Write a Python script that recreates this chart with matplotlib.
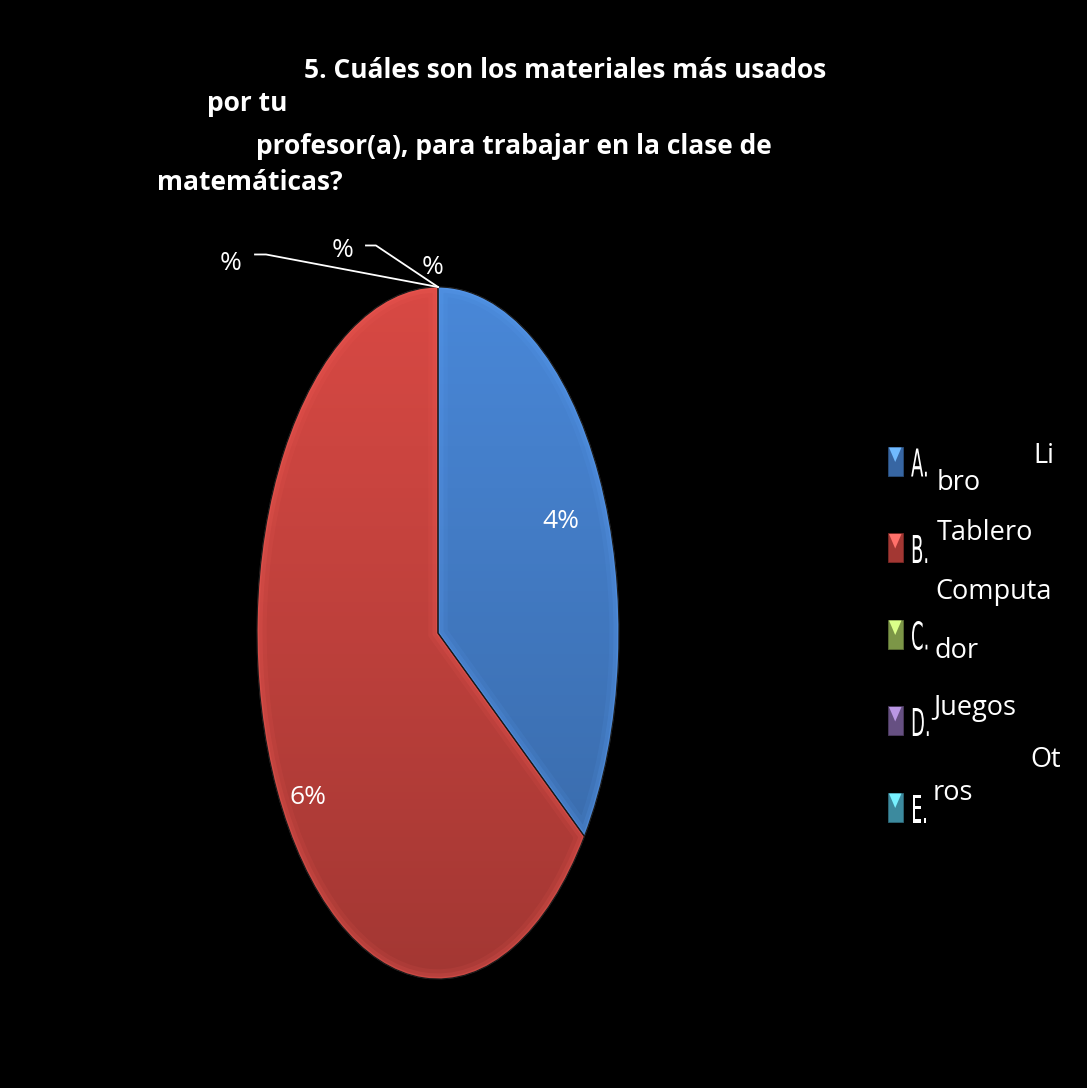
import numpy as np
import matplotlib.pyplot as plt
from matplotlib.patches import Rectangle, Polygon, PathPatch, Wedge
from matplotlib.textpath import TextPath
from matplotlib.font_manager import FontProperties
from matplotlib.transforms import Affine2D
from matplotlib.colors import to_rgb

# Pregunta 5 : materiales usados por el profesor(a)
letras = ["A.", "B.", "C.", "D.", "E."]
porcentajes = [35, 65, 0, 0, 0]
etiquetas = ["4%", "6%", "%", "%", "%"]
colores = ["#4580cc", "#cc4540", "#9bbb59", "#8064a2", "#4bacc6"]
# texto de la leyenda, cortado en trozos como sale en la hoja
leyenda = [["Li", "bro"], ["Tablero"], ["Computa", "dor"], ["Juegos"], ["Ot", "ros"]]
titulo = ["5. Cuáles son los materiales más usados",
          "por tu",
          "profesor(a), para trabajar en la clase de",
          "matemáticas?"]

W, H = 1087, 1088
fig = plt.figure(figsize=(W / 100, H / 100), dpi=100, facecolor="black")

# capa en pixeles para textos y leyenda
ov = fig.add_axes([0, 0, 1, 1])
ov.set_xlim(0, W)
ov.set_ylim(H, 0)
ov.axis("off")

fuente_tit = dict(family="Open Sans", weight="bold", size=19, color="white")
pos_tit = [(304, 78), (207, 111), (256, 154), (157, 190)]
for linea, (x, y) in zip(titulo, pos_tit):
    ov.text(x, y, linea, ha="left", va="baseline", **fuente_tit)

# torta (elipse estirada en vertical)
cx, cy, rx, ry = 438, 633, 181, 346
ax = fig.add_axes([(cx - rx) / W, (H - cy - ry) / H, 2 * rx / W, 2 * ry / H])
ax.set_facecolor("none")
wedges, _ = ax.pie(porcentajes, colors=colores, startangle=90, counterclock=False,
                   radius=1, wedgeprops=dict(linewidth=0.8, edgecolor="#222222"))
ax.set_aspect("auto")
ax.set_xlim(-1, 1)
ax.set_ylim(-1, 1)

# degradado y borde claro de cada porción
yy = np.linspace(1, 0, 200)[:, None, None]
for w, c in zip(wedges, colores):
    if w.theta2 - w.theta1 < 0.01:
        continue
    base = np.array(to_rgb(c))
    arriba = np.clip(base * 1.06, 0, 1)
    abajo = base * 0.8
    grad = abajo + (arriba - abajo) * yy
    grad = np.repeat(grad, 2, axis=1)
    im = ax.imshow(grad, extent=(-1, 1, -1, 1), aspect="auto", zorder=2)
    im.set_clip_path(w)
    claro = np.clip(base * 1.15 + 0.07, 0, 1)
    for lw, a in [(14, 0.10), (8, 0.15), (3, 0.25)]:
        borde = Wedge(w.center, w.r, w.theta1, w.theta2, facecolor="none",
                      edgecolor=claro, linewidth=lw, alpha=a, zorder=3)
        ax.add_patch(borde)
        borde.set_clip_path(w)
    ax.add_patch(Wedge(w.center, w.r, w.theta1, w.theta2, facecolor="none",
                       edgecolor="#1a1a1a", linewidth=0.8, zorder=4))

# etiquetas de porcentaje
fuente_pct = dict(family="Open Sans", size=19, color="white")
dist = [0.75, 0.86]
giro = [-1.5, 6.5]
for i, w in enumerate(wedges[:2]):
    ang = np.deg2rad((w.theta1 + w.theta2) / 2 + giro[i])
    ax.text(dist[i] * np.cos(ang), dist[i] * np.sin(ang), etiquetas[i],
            ha="center", va="center", **fuente_pct)

# porciones vacías: etiqueta con línea guía hasta el vértice
pos_vacias = [(-1.144, 1.068), (-0.530, 1.106), (-0.028, 1.055)]
guias = [[(-1.011, 1.094), (-0.950, 1.094)], [(-0.398, 1.120), (-0.343, 1.120)], None]
for w, txt, (lx, ly), g in zip(wedges[2:], etiquetas[2:], pos_vacias, guias):
    ang = np.deg2rad(w.theta1)
    vx, vy = w.r * np.cos(ang), w.r * np.sin(ang)
    ax.text(lx, ly, txt, ha="center", va="center", clip_on=False, **fuente_pct)
    if g is not None:
        xs = [g[0][0], g[1][0], vx]
        ys = [g[0][1], g[1][1], vy]
        ax.plot(xs, ys, color="white", lw=1.3, clip_on=False, zorder=5)

# leyenda
fuente_ley = dict(family="Open Sans", size=19.5, color="white")
trozos_pos = [[(1033, 2), (937, 29)], [(937, -7.5)], [(935, -35.5), (935, 23.5)],
              [(933, -6)], [(1030, -40), (933, -7)]]
prop_letra = FontProperties(family="DejaVu Sans")
for i, (letra, c) in enumerate(zip(letras, colores)):
    yc = 461 + i * 86.5
    base = np.array(to_rgb(c))
    ov.add_patch(Rectangle((888, yc - 14.5), 14.5, 29, facecolor=base * 0.8,
                           edgecolor=base * 0.6, linewidth=0.6))
    ov.add_patch(Polygon([(889, yc - 13.5), (901.5, yc - 13.5), (895.2, yc + 1)],
                         closed=True, facecolor=np.clip(base * 1.25 + 0.1, 0, 1),
                         edgecolor="none"))
    tp = TextPath((0, 0), letra, size=38.4, prop=prop_letra)
    tr = Affine2D().scale(0.47, -1).translate(911, yc + 15.5)
    ov.add_patch(PathPatch(tr.transform_path(tp), facecolor="white", edgecolor="none"))
    for txt, (x, dy) in zip(leyenda[i], trozos_pos[i]):
        ov.text(x, yc + dy, txt, ha="left", va="baseline", **fuente_ley)

fig.savefig("out.png", dpi=100, facecolor="black")
